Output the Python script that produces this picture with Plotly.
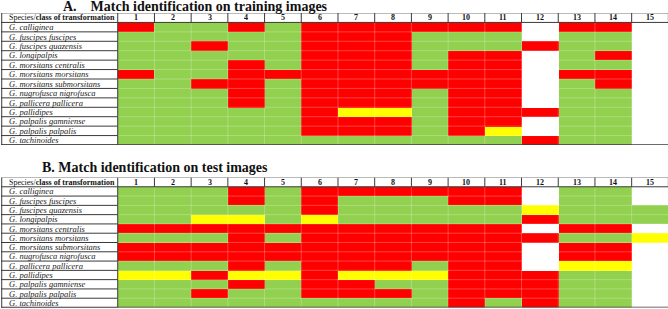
import plotly.graph_objects as go

species = [
    "G. calliginea", "G. fuscipes fuscipes", "G. fuscipes quazensis", "G. longipalpis",
    "G. morsitans centralis", "G. morsitans morsitans", "G. morsitans submorsitans",
    "G. nugrofusca nigrofusca", "G. pallicera pallicera", "G. pallidipes",
    "G. palpalis gamniense", "G. palpalis palpalis", "G. tachinoides",
]
classes = list(range(1, 16))
header_label = "Species/<b>class of transformation</b>"
title_a = "A.\u00a0\u00a0\u00a0 Match identification on training images"
title_b = "B. Match identification on test images"

# R = mismatch (red), G = match (green), Y = partial (yellow), W = not tested (white)
training = [
    "RGGRGRRRRRRWRRW",
    "GGGGGRRRGGGWGGW",
    "GGRGGRRRGGGRGGW",
    "GGGGGRRRGRRWGRW",
    "GGGRGRRRGRRWGGW",
    "RGGRRRRRRRRWRRW",
    "GGRRGRRRRRRWGRW",
    "GGGRGRRRGRRWGGW",
    "GGGRGRRRGRRWGGW",
    "GGGGGRYYGRRRGGW",
    "GGGGGRRRGRRWGGW",
    "GGGGGRRRGRYWGGW",
    "GGGGGGGGGGGRGGW",
]
test = [
    "GGGRGRRRRRRWGGW",
    "GGGRGRGGGRRWGGW",
    "GGGGGRGGGGGYGGG",
    "GGYYGYGGGGGRGGG",
    "RRRRRRRRRRRWRRW",
    "GGGRGRRRRRRRGGY",
    "RRRRRRRRRRRWRRW",
    "RRRRRRRRRRRWRRW",
    "GGGRGRRRGRRWYYW",
    "YYRYYRYYYRRRGGW",
    "GGGRGRRGGRRRGGW",
    "GGRGGRRRGRRRGGW",
    "GGGGGGGGGRGRGGW",
]

code = {"W": 0, "G": 1, "Y": 2, "R": 3}
GREEN, YELLOW, RED = "#92D050", "#FFFF00", "#FF0000"
cscale = [[0, "#FFFFFF"], [0.1666, "#FFFFFF"], [0.1667, GREEN], [0.5, GREEN],
          [0.5001, YELLOW], [0.8333, YELLOW], [0.8334, RED], [1, RED]]

W, H = 668, 309
FONT = "Liberation Serif, Times New Roman, serif"
XL, XR = -2.68, 15.49
tables = [
    (training, 13, 145, "x", "y", ""),
    (test, 177.5, 307.5, "x2", "y2", "2"),
]

fig = go.Figure()
shapes, annots = [], []
for grid, top, bot, xr, yr, sfx in tables:
    z = [[code[ch] for ch in row] for row in grid]
    fig.add_trace(go.Heatmap(
        x=classes, y=list(range(1, len(species) + 1)), z=z,
        colorscale=cscale, zmin=0, zmax=3, showscale=False, hoverinfo="skip",
        xaxis=xr, yaxis=yr))
    fig.layout["xaxis" + sfx] = dict(domain=[1 / W, 1], range=[XL, XR], visible=False,
                                     fixedrange=True)
    fig.layout["yaxis" + sfx] = dict(domain=[1 - bot / H, 1 - top / H],
                                     range=[len(species) + 0.5, -0.5], visible=False,
                                     fixedrange=True)
    n = len(species)
    # faint cell lines
    for c in range(1, 15):
        shapes.append(dict(type="line", xref=xr, yref=yr, x0=c + 0.5, x1=c + 0.5,
                           y0=0.5, y1=n + 0.5, line=dict(color="rgba(255,255,255,0.25)", width=1)))
    for r in range(1, n):
        shapes.append(dict(type="line", xref=xr, yref=yr, x0=0.5, x1=15.5,
                           y0=r + 0.5, y1=r + 0.5, line=dict(color="rgba(255,255,255,0.25)", width=1)))
    dark = "#3a3a3a"
    # label column row borders
    for r in range(0, n + 1):
        shapes.append(dict(type="line", xref=xr, yref=yr, x0=XL, x1=0.5,
                           y0=r + 0.5, y1=r + 0.5, line=dict(color=dark, width=1)))
    # header top and bottom
    shapes.append(dict(type="line", xref=xr, yref=yr, x0=XL, x1=XR, y0=-0.5, y1=-0.5,
                       line=dict(color="#777", width=1)))
    shapes.append(dict(type="line", xref=xr, yref=yr, x0=0.5, x1=XR, y0=0.5, y1=0.5,
                       line=dict(color=dark, width=1)))
    # table bottom
    shapes.append(dict(type="line", xref=xr, yref=yr, x0=XL, x1=XR, y0=n + 0.5, y1=n + 0.5,
                       line=dict(color=dark, width=1.5)))
    # verticals
    shapes.append(dict(type="line", xref=xr, yref=yr, x0=XL + 0.02, x1=XL + 0.02, y0=-0.5,
                       y1=n + 0.5, line=dict(color=dark, width=1)))
    shapes.append(dict(type="line", xref=xr, yref=yr, x0=0.5, x1=0.5, y0=-0.5,
                       y1=n + 0.5, line=dict(color=dark, width=1)))
    for c in range(1, 16):
        shapes.append(dict(type="line", xref=xr, yref=yr, x0=c + 0.5, x1=c + 0.5,
                           y0=-0.5, y1=0.5, line=dict(color=dark, width=1)))
        annots.append(dict(xref=xr, yref=yr, x=c, y=0, text="<b>%d</b>" % c, showarrow=False,
                           font=dict(family=FONT, size=8, color="#111")))
    annots.append(dict(xref=xr, yref=yr, x=XL + 0.17, y=0, text=header_label, showarrow=False,
                       xanchor="left", font=dict(family=FONT, size=8, color="#111")))
    for i, s in enumerate(species):
        annots.append(dict(xref=xr, yref=yr, x=XL + 0.17, y=i + 1, text="<i>%s</i>" % s,
                           showarrow=False, xanchor="left",
                           font=dict(family=FONT, size=8.5, color="#222")))

annots.append(dict(xref="paper", yref="paper", x=195 / W, y=1 - 7 / H, text="<b>%s</b>" % title_a,
                   showarrow=False, xanchor="center", yanchor="middle", borderpad=0,
                   font=dict(family=FONT, size=14, color="#111")))
annots.append(dict(xref="paper", yref="paper", x=40 / W, y=1 - 167 / H, text="<b>%s</b>" % title_b,
                   showarrow=False, xanchor="left", yanchor="middle",
                   font=dict(family=FONT, size=14, color="#111")))

fig.update_layout(width=W, height=H, margin=dict(l=0, r=0, t=0, b=0),
                  paper_bgcolor="white", plot_bgcolor="white",
                  shapes=shapes, annotations=annots, showlegend=False)
fig.write_html("out.html", config={"displayModeBar": False},
               post_script="document.body.style.margin='0';document.body.style.overflow='hidden';")
